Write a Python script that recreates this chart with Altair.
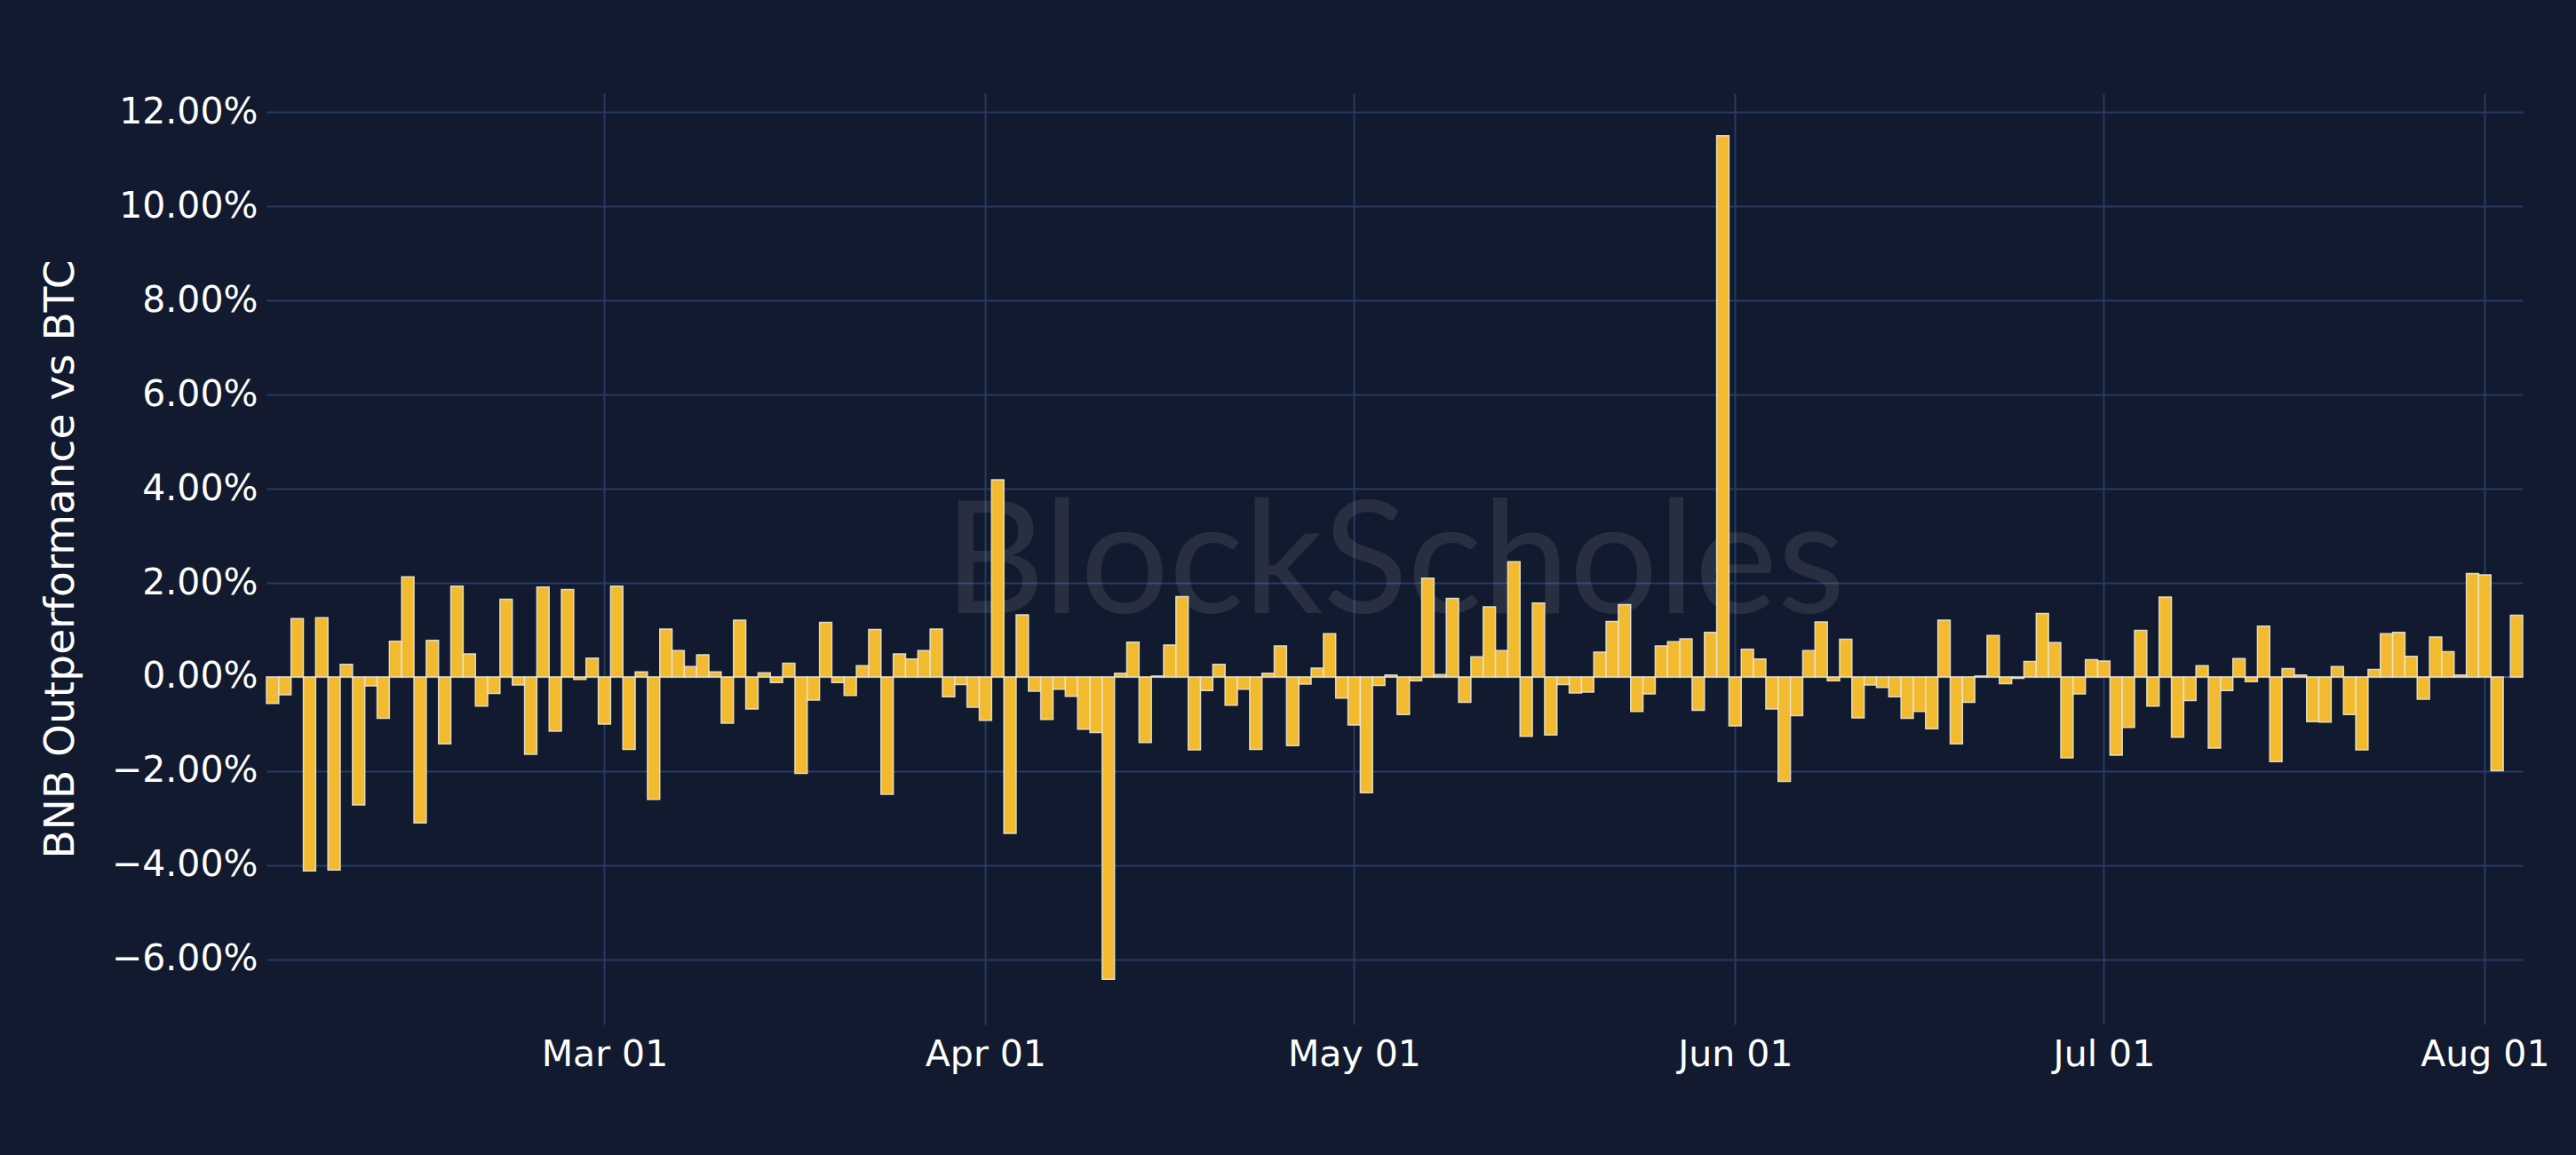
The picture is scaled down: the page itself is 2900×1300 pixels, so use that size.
import altair as alt
import pandas as pd
import jinja2

# ---- data (BNB outperformance vs BTC, daily, %) ----
feb_vals = [-0.56, -0.38, 1.24, -4.12, 1.26, -4.10, 0.27, -2.72, -0.19, -0.88,
            0.76, 2.13, -3.10, 0.78, -1.42, 1.93, 0.49, -0.62, -0.35, 1.65,
            -0.17, -1.64, 1.91, -1.15, 1.86, -0.05, 0.40]            # Feb 02 - Feb 28
mar_vals = [-1.00, 1.93, -1.54, 0.11, -2.60, 1.02, 0.56, 0.22, 0.47, 0.11,
            -0.98, 1.21, -0.68, 0.09, -0.12, 0.29, -2.05, -0.49, 1.16, -0.12,
            -0.39, 0.24, 1.01, -2.49, 0.49, 0.38, 0.56, 1.02, -0.42, -0.16,
            -0.64]
apr_vals = [-0.92, 4.19, -3.32, 1.32, -0.30, -0.90, -0.26, -0.41, -1.11, -1.18,
            -6.42, 0.08, 0.74, -1.39, 0.02, 0.68, 1.71, -1.55, -0.29, 0.27,
            -0.60, -0.26, -1.54, 0.08, 0.66, -1.46, -0.15, 0.19, 0.92, -0.45]
may_vals = [-1.02, -2.46, -0.18, 0.04, -0.80, -0.08, 2.10, 0.05, 1.67, -0.54,
            0.43, 1.49, 0.56, 2.45, -1.26, 1.57, -1.23, -0.16, -0.34, -0.32,
            0.53, 1.18, 1.54, -0.73, -0.36, 0.66, 0.75, 0.81, -0.71, 0.95,
            11.50]
jun_vals = [-1.04, 0.59, 0.38, -0.68, -2.22, -0.82, 0.56, 1.17, -0.08, 0.80,
            -0.87, -0.17, -0.22, -0.42, -0.88, -0.73, -1.10, 1.21, -1.42, -0.54,
            0.02, 0.88, -0.14, -0.03, 0.33, 1.35, 0.73, -1.72, -0.36, 0.37]
jul_vals = [0.34, -1.66, -1.07, 0.99, -0.62, 1.70, -1.28, -0.50, 0.24, -1.51,
            -0.29, 0.39, -0.10, 1.08, -1.80, 0.18, 0.04, -0.95, -0.96, 0.22,
            -0.80, -1.55, 0.16, 0.92, 0.95, 0.44, -0.47, 0.85, 0.54, 0.04,
            2.20]
aug_vals = [2.17, -1.99, 1.31]

daily_dates = list(pd.date_range("2023-02-02", "2023-08-02", freq="D"))
last_date = [pd.Timestamp("2023-08-03T14:00:00")]   # final (partial-day) observation
dates = daily_dates + last_date

values = feb_vals + mar_vals + apr_vals + may_vals + jun_vals + jul_vals + aug_vals

y_ticks = [-6, -4, -2, 0, 2, 4, 6, 8, 10, 12]
y_title = "BNB Outperformance vs BTC"
watermark = "BlockScholes"

df = pd.DataFrame({"date": dates, "value": values})
half_day = pd.Timedelta(hours=12)
df["start"] = df["date"] - half_day
df["end"] = df["date"] + half_day

x_domain = [df["start"].min().isoformat(), df["end"].max().isoformat()]
y_domain = [-7.38, 12.4]

BG = "#111a2e"
GRID = "#263b63"
BAR = "#f2ba2f"

x_enc = alt.X(
    "start:T",
    scale=alt.Scale(domain=x_domain, nice=False),
    axis=alt.Axis(
        title=None,
        format="%b %d",
        tickCount={"interval": "month", "step": 1},
        grid=True, gridColor=GRID, gridWidth=2,
        domain=False, ticks=False,
        labelFont="DejaVu Sans", labelFontSize=41, labelColor="#ffffff",
        labelPadding=14, labelFlush=False,
    ),
)
y_scale = alt.Scale(domain=y_domain, nice=False, zero=False)
y_enc = alt.Y(
    "value:Q",
    scale=y_scale,
    axis=alt.Axis(
        title=y_title,
        values=y_ticks,
        labelExpr="format(datum.value, '.2f') + '%'",
        grid=True, gridColor=GRID, gridWidth=2,
        domain=False, ticks=False,
        labelFont="DejaVu Sans", labelFontSize=41, labelColor="#ffffff",
        labelPadding=10,
        titleFont="DejaVu Sans", titleFontSize=47, titleFontWeight="normal",
        titleColor="#ffffff", titleAngle=270,
        titleX=-232, titleY=524, titleAlign="center", titleBaseline="middle",
    ),
)

mark_df = pd.DataFrame({"label": [watermark]})
wm = alt.Chart(mark_df).mark_text(
    font="Lato", fontSize=176, color="#ffffff", opacity=0.09,
    align="center", baseline="alphabetic",
).encode(text="label:N", x=alt.value(1270), y=alt.value(585))

bars = alt.Chart(df).mark_bar(
    color=BAR, stroke="#e9e4d6", strokeWidth=1.5, strokeOpacity=0.9
).encode(x=x_enc, x2="end:T", y=y_enc, y2=alt.datum(0))

zero = alt.Chart(df).mark_rule(color="#4d5672", strokeWidth=2).encode(
    y=alt.datum(0)
)

chart = alt.layer(wm, bars, zero, bars).properties(
    width=2540, height=1048,
    padding={"left": 300, "top": 105, "right": 60, "bottom": 147},
    autosize=alt.AutoSizeParams(type="none"),
    background=BG,
).configure_view(stroke=None)

# keep only one bar layer (draw order: watermark, zero line, bars)
chart = alt.layer(wm, zero, bars).properties(
    width=2540, height=1048,
    padding={"left": 300, "top": 105, "right": 60, "bottom": 147},
    autosize=alt.AutoSizeParams(type="none"),
    background=BG,
).configure_view(stroke=None)

TEMPLATE = jinja2.Template("""<!DOCTYPE html>
<html>
<head>
  <meta charset="utf-8">
  <style>
    html, body { margin: 0; padding: 0; background: #111a2e; overflow: hidden; }
    #{{ output_div }}.vega-embed { width: 100%; display: flex; }
  </style>
  <script type="text/javascript" src="{{ base_url }}/vega@{{ vega_version }}"></script>
  <script type="text/javascript" src="{{ base_url }}/vega-lite@{{ vegalite_version }}"></script>
  <script type="text/javascript" src="{{ base_url }}/vega-embed@{{ vegaembed_version }}"></script>
</head>
<body>
  <div id="{{ output_div }}"></div>
  <script>
    (function(vegaEmbed) {
      var spec = {{ spec }};
      var embedOpt = {{ embed_options }};
      function showError(el, error){
          el.innerHTML = ('<div style="color:red;"><p>JavaScript Error: ' + error.message + '</p></div>');
          throw error;
      }
      const el = document.getElementById('{{ output_div }}');
      vegaEmbed("#{{ output_div }}", spec, embedOpt)
        .catch(error => showError(el, error));
    })(vegaEmbed);
  </script>
</body>
</html>
""")

try:
    chart.save("out.html", embed_options={"renderer": "svg", "actions": False},
               template=TEMPLATE)
except Exception:
    chart.save("out.html", embed_options={"renderer": "svg", "actions": False})
